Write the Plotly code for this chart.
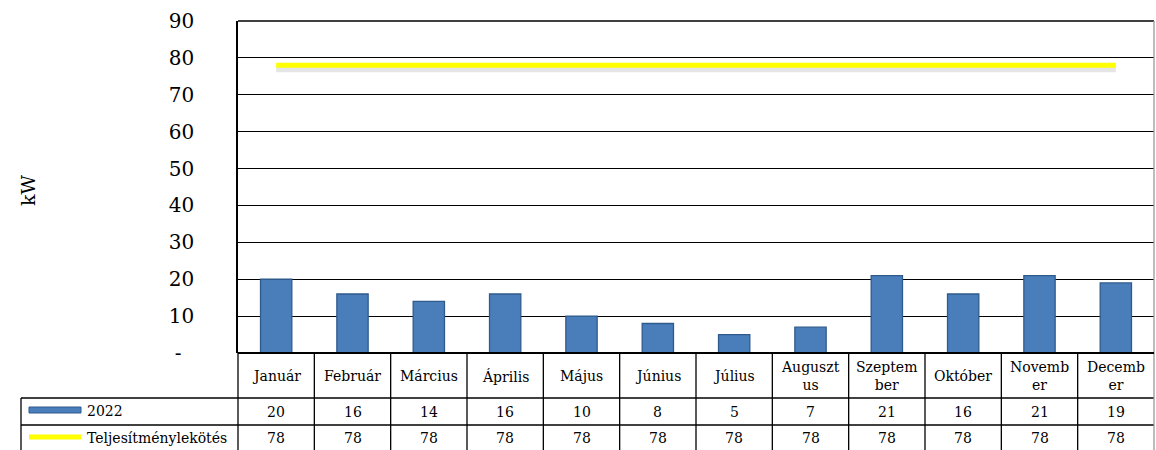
import plotly.graph_objects as go

# ---- data ----
months = ["Január", "Február", "Március", "Április", "Május", "Június",
          "Július", "Augusztus", "Szeptember", "Október", "November", "December"]
month_labels = ["Január", "Február", "Március", "Április", "Május", "Június",
                "Július", "Auguszt<br>us", "Szeptem<br>ber", "Október", "Novemb<br>er", "Decemb<br>er"]
series_2022 = [20, 16, 14, 16, 10, 8, 5, 7, 21, 16, 21, 19]
series_limit = [78, 78, 78, 78, 78, 78, 78, 78, 78, 78, 78, 78]
name_2022 = "2022"
name_limit = "Teljesítménylekötés"
y_tickvals = [0, 10, 20, 30, 40, 50, 60, 70, 80, 90]
y_ticktext = ["-\u00a0\u00a0", "10", "20", "30", "40", "50", "60", "70", "80", "90"]

# ---- layout geometry (pixels) ----
W, H = 1156, 450
L, R, T, B = 238, 1154, 21, 353
pw, ph = R - L, B - T
FONT = "Georgia, 'DejaVu Serif', serif"


def px_x(p):
    return (p - L) / pw


def px_y(p):
    return (B - p) / ph


fig = go.Figure()

# shadow of the yellow line
fig.add_trace(go.Scatter(
    x=months, y=[v - 0.8 for v in series_limit], mode="lines",
    line=dict(color="rgba(0,0,0,0.10)", width=8), hoverinfo="skip", showlegend=False))
fig.add_trace(go.Bar(
    x=months, y=series_2022, name=name_2022, width=0.41,
    marker=dict(color="#4A7EBB", line=dict(color="#2F5A8C", width=1.3))))
fig.add_trace(go.Scatter(
    x=months, y=series_limit, name=name_limit, mode="lines",
    line=dict(color="#FFFF00", width=5)))

shapes = []
n = len(months)
colw = 1.0 / n
tbl_left = px_x(21)
y_row1 = px_y(398)
y_row2 = px_y(425)
y_bot = px_y(452)
line_k = dict(color="black", width=1.3)

# top border of the plot area
shapes.append(dict(type="line", xref="paper", yref="paper", x0=0, x1=1,
                   y0=1, y1=1, line=line_k))
# horizontal table lines
for yy in (y_row1, y_row2):
    shapes.append(dict(type="line", xref="paper", yref="paper", x0=tbl_left, x1=1,
                       y0=yy, y1=yy, line=line_k))
# vertical lines: column boundaries
for i in range(n):
    xx = i * colw
    shapes.append(dict(type="line", xref="paper", yref="paper", x0=xx, x1=xx,
                       y0=0, y1=y_bot, line=line_k))
shapes.append(dict(type="line", xref="paper", yref="paper", x0=1, x1=1,
                   y0=y_bot, y1=1, line=dict(color="#999999", width=1.3)))
shapes.append(dict(type="line", xref="paper", yref="paper", x0=tbl_left, x1=tbl_left,
                   y0=y_row1, y1=y_bot, line=line_k))
# bottom axis line (thicker)
shapes.append(dict(type="line", xref="paper", yref="paper", x0=0, x1=1,
                   y0=0, y1=0, line=dict(color="black", width=2.2)))
# legend keys
shapes.append(dict(type="rect", xref="paper", yref="paper",
                   x0=px_x(29), x1=px_x(81), y0=px_y(413), y1=px_y(407),
                   fillcolor="#4A7EBB", line=dict(color="#2F5A8C", width=1)))
shapes.append(dict(type="line", xref="paper", yref="paper",
                   x0=px_x(29), x1=px_x(81), y0=px_y(437), y1=px_y(437),
                   line=dict(color="#FFFF00", width=5)))

annotations = []
tfont = dict(family=FONT, size=14, color="black")
for i, m in enumerate(months):
    annotations.append(dict(x=m, xref="x", y=px_y(376), yref="paper", text=month_labels[i],
                            showarrow=False, font=tfont, xanchor="center", yanchor="middle"))
    annotations.append(dict(x=m, xref="x", y=px_y(411.5), yref="paper", text=str(series_2022[i]),
                            showarrow=False, font=tfont, xanchor="center", yanchor="middle"))
    annotations.append(dict(x=m, xref="x", y=px_y(438), yref="paper", text=str(series_limit[i]),
                            showarrow=False, font=tfont, xanchor="center", yanchor="middle"))
annotations.append(dict(x=px_x(85), xref="paper", y=px_y(410.5), yref="paper", text=name_2022,
                        showarrow=False, font=tfont, xanchor="left", yanchor="middle"))
annotations.append(dict(x=px_x(85), xref="paper", y=px_y(437.5), yref="paper", text=name_limit,
                        showarrow=False, font=tfont, xanchor="left", yanchor="middle"))
annotations.append(dict(x=px_x(28), xref="paper", y=px_y(190), yref="paper", text="kW",
                        showarrow=False, textangle=-90, font=dict(family=FONT, size=19, color="black"),
                        xanchor="center", yanchor="middle"))

fig.update_layout(
    width=W, height=H,
    margin=dict(l=L, r=W - R, t=T, b=H - B),
    paper_bgcolor="white", plot_bgcolor="white",
    showlegend=False,
    shapes=shapes, annotations=annotations,
    font=dict(family=FONT, color="black"),
    xaxis=dict(showticklabels=False, showgrid=False, zeroline=False, showline=False,
               ticks="", range=[-0.5, n - 0.5]),
    yaxis=dict(range=[0, 90], tickvals=y_tickvals, ticktext=y_ticktext,
               showgrid=True, gridcolor="black", gridwidth=1.3, zeroline=False,
               showline=True, linecolor="black", linewidth=1.5, ticks="",
               ticklabelstandoff=38,
               tickfont=dict(family=FONT, size=20, color="black")),
)

fig.write_html("out.html", config={"displayModeBar": False},
               post_script="document.body.style.margin='0px';document.body.style.overflow='hidden';")
